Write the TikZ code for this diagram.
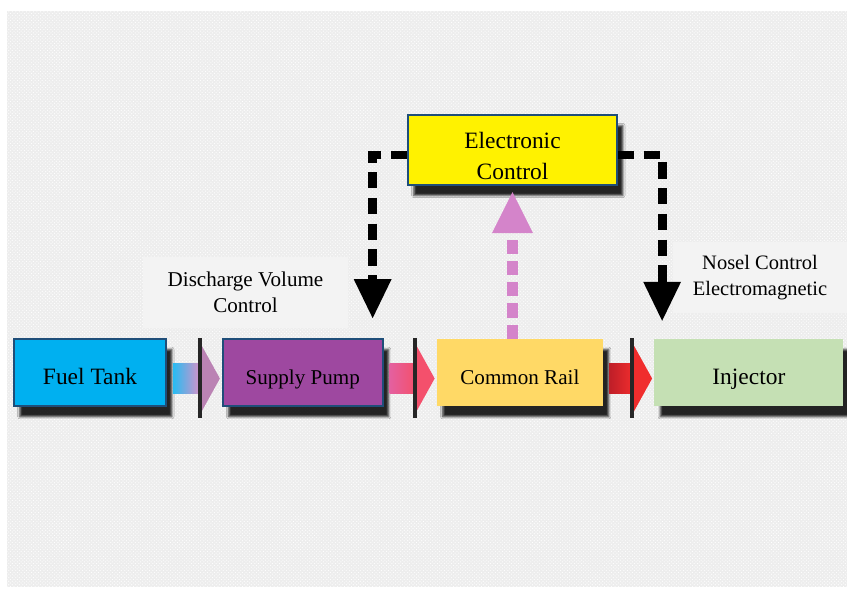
\documentclass[tikz,border=0pt]{standalone}
\usepackage{fontspec}
\setmainfont{Liberation Serif}
\usetikzlibrary{arrows.meta,positioning,calc,shadows.blur,patterns}

\definecolor{tank}{RGB}{0,176,240}
\definecolor{pump}{RGB}{158,72,160}
\definecolor{rail}{RGB}{255,217,102}
\definecolor{inj}{RGB}{197,224,180}
\definecolor{frame}{RGB}{31,78,121}
\definecolor{lilac}{RGB}{212,132,202}
\definecolor{note}{RGB}{243,243,243}
\definecolor{rose}{RGB}{228,96,160}
\definecolor{coral}{RGB}{244,80,108}
\definecolor{brick}{RGB}{190,30,40}
\definecolor{flame}{RGB}{240,45,45}

\begin{document}
\begin{tikzpicture}[x=0.03cm,y=-0.03cm,
  b/.style={minimum height=2.02cm,inner sep=0pt,align=center,text height=20pt,text depth=0pt,
    blur shadow={shadow xshift=5pt,shadow yshift=-9pt,shadow blur steps=4,shadow opacity=85}},
  f/.style={b,draw=frame,line width=1.5pt},
  n/.style={fill=note,inner sep=0pt,align=center,minimum height=2.13cm,font=\fontsize{18}{22}\selectfont},
  c/.style={line width=7.5pt,dash pattern=on 14pt off 8pt,-{Triangle[length=34pt,width=30pt]}},
  s/.style={draw=lilac,line width=9pt,dash pattern=on 12pt off 6pt,-{Triangle[length=36pt,width=32pt]}}]
% textured backdrop
\fill[white] (0,0) rectangle (847,590);
\fill[black!7] (7,11) rectangle (847,587);
\fill[pattern=crosshatch dots,pattern color=white] (7,11) rectangle (847,587);
% main chain
\node[f,fill=tank,minimum width=4.56cm,font=\fontsize{20}{24}\selectfont] (ft) at (90,372.5) {Fuel Tank};
\node[f,fill=pump,minimum width=4.8cm,font=\fontsize{18}{22}\selectfont,right=1.65cm of ft] (sp) {Supply Pump};
\node[b,fill=rail,minimum width=4.98cm,font=\fontsize{18}{22}\selectfont,right=1.59cm of sp] (cr) {Common Rail};
\node[b,fill=inj,minimum width=5.67cm,font=\fontsize{20}{24}\selectfont,right=1.53cm of cr] (in) {Injector};
\node[f,fill=yellow,minimum width=6.27cm,minimum height=2.1cm,text height={},text depth={},
  font=\fontsize{20}{27}\selectfont] (ec) at (512.5,150) {\rule{0pt}{24pt}Electronic\\Control};
% notes
\node[n,minimum width=6.15cm] (dv) at (245.5,292.5) {Discharge Volume\\Control};
\node[n,minimum width=5.22cm,font=\fontsize{17.5}{22}\selectfont] (nc) at (760,277.5) {Nosel Control\\Electromagnetic};
% fuel flow
\foreach \p/\q/\l/\r/\h in {ft/sp/tank!85!white/lilac!80!pink/lilac!70!gray,
  sp/cr/rose/coral/coral, cr/in/brick/flame/flame}{
  \shade[left color=\l,right color=\r] ($(\p.east)+(6,-9)$) rectangle ($(\q.west)+(-21,21)$);
  \fill[\h] ($(\q.west)+(-23,-32)$) -- ($(\q.west)+(-2,6)$) -- ($(\q.west)+(-23,44)$) -- cycle;
  \draw[black!85,line width=3.5pt] ($(\q.west)+(-22,-34)$) -- ($(\q.west)+(-22,46)$);
}
% control signals
\draw[c] ($(ec.west)+(0,5)$) -| ($(sp.north east)+(-11,-19)$);
\draw[c] ($(ec.east)+(0,5)$) -| ($(in.north west)+(8,-17)$);
\draw[s] (ec.south |- cr.north) -- ($(ec.south)+(0,5)$);
\end{tikzpicture}
\end{document}
